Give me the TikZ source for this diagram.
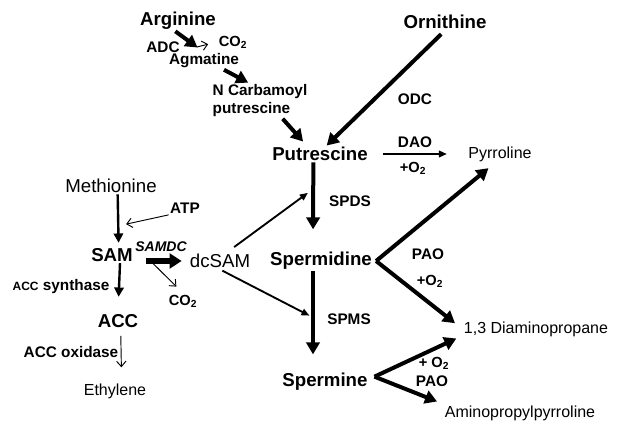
\documentclass[tikz,border=0pt]{standalone}
\usepackage{fontspec}
\setmainfont{Liberation Sans}
\usetikzlibrary{arrows.meta}

\begin{document}
\begin{tikzpicture}[x=0.75pt, y=-0.75pt,
  every node/.style={inner sep=1pt},
  big/.style={font=\fontsize{14}{16}\selectfont\bfseries},
  plain/.style={font=\fontsize{14}{16}\selectfont},
  prod/.style={font=\fontsize{12}{14}\selectfont},
  enz/.style={font=\fontsize{11.5}{13.5}\selectfont\bfseries},
  gas/.style={font=\fontsize{11}{13}\selectfont\bfseries},
  thk/.style={-{Triangle[length=9pt,width=10pt]}, line width=3pt},
  fat/.style={-{Triangle[length=9pt,width=11pt]}, line width=4pt},
  med/.style={-{Triangle[length=7pt,width=7pt]}, line width=1.8pt},
  lite/.style={-{Triangle[length=6pt,width=5pt]}, line width=1.4pt},
  thn/.style={-{Straight Barb[length=4pt,width=7pt]}, line width=0.7pt}
]
\useasboundingbox (0,0) rectangle (625,438);

% arginine route
\node[big] (arg) at (178,21) {Arginine};
\node[enz] (adc) at (163,47) {ADC};
\node[gas] (co2a) at (233,42) {CO\textsubscript{2}};
\node[enz] (agm) at (204,61) {Agmatine};
\node[enz, align=left] (ncp) at (260,101) {N Carbamoyl\\putrescine};
\node[big] (orn) at (445,22) {Ornithine};
\node[enz] (odc) at (415,99) {ODC};

% polyamines
\node[big] (put) at (320,154) {Putrescine};
\node[enz] (dao) at (415,142) {DAO};
\node[gas] (o2a) at (413,168) {+O\textsubscript{2}};
\node[prod] (pyr) at (500,154) {Pyrroline};
\node[enz] (spds) at (350,201) {SPDS};
\node[big] (spd) at (321,261) {Spermidine};
\node[enz] (pao1) at (428,254) {PAO};
\node[gas] (o2b) at (430,281) {+O\textsubscript{2}};
\node[prod] (dap) at (536,329) {1,3 Diaminopropane};
\node[enz] (spms) at (349,319) {SPMS};
\node[big] (spm) at (325,382) {Spermine};
\node[gas] (o2c) at (434,363) {+ O\textsubscript{2}};
\node[enz] (pao2) at (432,381) {PAO};
\node[prod] (apyr) at (520,413) {Aminopropylpyrroline};

% methionine route
\node[plain] (met) at (111,186) {Methionine};
\node[enz] (atp) at (185,208) {ATP};
\node[big] (sam) at (112,255) {SAM};
\node[font=\fontsize{10.5}{12}\selectfont\bfseries\itshape] (samdc) at (161,247) {SAMDC};
\node[plain] (dcsam) at (220,261) {dcSAM};
\node[gas] (co2b) at (183,301) {CO\textsubscript{2}};
\node[enz] (accs) at (61,287) {{\fontsize{9}{11}\selectfont ACC} synthase};
\node[big] (acc) at (118,321) {ACC};
\node[enz] (acco) at (71,352) {ACC oxidase};
\node[prod] (eth) at (115,391) {Ethylene};

\draw[thk, shorten >=6pt] ([xshift=-2pt]arg.south) -- coordinate[pos=0.75] (a1) (agm.north);
\draw[thn, shorten >=7pt] (a1) -- (co2a.west);
\draw[thk, shorten >=1pt] ([xshift=15pt]agm.south) -- ([xshift=-8pt]ncp.north);
\draw[thk, shorten >=4pt] ([xshift=17pt]ncp.south) -- ([xshift=-10pt]put.north);
\draw[thk, shorten <=4pt] (orn.south) -- ([xshift=5pt]put.north);
\draw[lite, shorten <=10pt, shorten >=15pt] (put.east) -- (pyr.west);
\draw[thk, shorten >=16pt] ([xshift=-5pt]put.south) -- coordinate[pos=0.3] (a7) ([xshift=-6pt]spd.north);
\draw[thk, shorten >=6pt] ([xshift=2pt]spd.east) -- ([xshift=-4pt]pyr.south);
\draw[thk, shorten >=7pt] ([xshift=2pt]spd.east) -- (dap.west);
\draw[thk, shorten >=13pt] ([xshift=-6pt]spd.south) -- coordinate[pos=0.46] (a10) ([xshift=-9pt]spm.north);
\draw[thk, shorten >=5pt] ([xshift=4pt,yshift=4pt]spm.east) -- ([yshift=-5pt]dap.west);
\draw[thk, shorten >=5pt] ([xshift=4pt,yshift=4pt]spm.east) -- (apyr.north west);

\draw[med, shorten >=3pt] ([xshift=5pt]met.south) -- coordinate[pos=0.6] (a13) ([xshift=5pt]sam.north);
\draw[thn, shorten >=6pt] (atp.south west) -- (a13);
\draw[fat, shorten <=9pt, shorten >=5pt] (sam.east |- dcsam.west) -- coordinate[pos=0.3] (a15) (dcsam.west);
\draw[thn, shorten >=7pt] (a15) -- (co2b.north);
\draw[lite, shorten <=7pt, shorten >=5pt] ([xshift=5pt]dcsam.north) -- (a7);
\draw[lite, shorten <=2pt, shorten >=3pt] (dcsam.south) -- (a10);
\draw[med, shorten >=12pt] ([xshift=6pt]sam.south) -- (acc.north);
\draw[thn, shorten <=5pt, shorten >=11pt] ([xshift=2pt]acc.south) -- ([xshift=5pt]eth.north);
\end{tikzpicture}
\end{document}
